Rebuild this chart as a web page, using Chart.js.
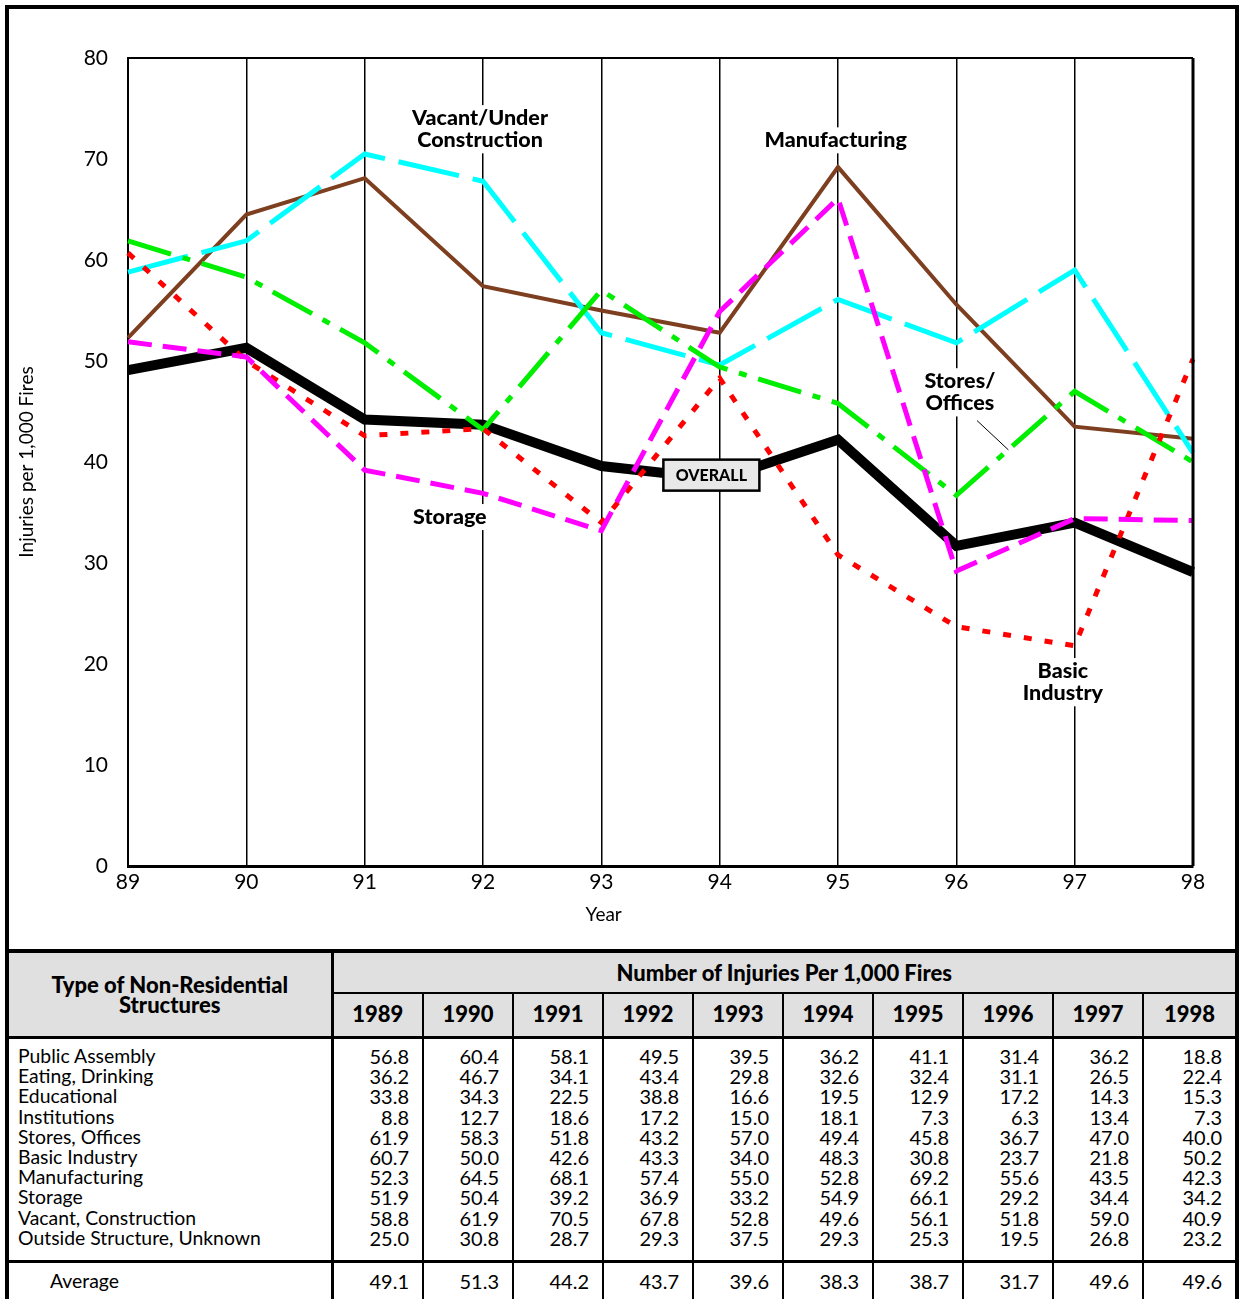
<!DOCTYPE html>
<html>
<head>
<meta charset="utf-8">
<script src="https://cdn.jsdelivr.net/npm/chart.js@4.4.0/dist/chart.umd.min.js"></script>
<style>
  html, body { margin: 0; padding: 0; background: #fff; overflow: hidden; width: 1241px; height: 1299px; }
  .frame { position: absolute; left: 5px; top: 5px; width: 1226px; height: 1400px; border: 4px solid #000; }
  #myChart { position: absolute; left: 0; top: 0; }
  #tbl { position: absolute; left: 9px; top: 949px; width: 1226px; border-collapse: collapse; table-layout: fixed;
         font-family: Lato, sans-serif; font-size: 20px; color: #000; }
  #tbl th { background: #e0e0e0; font-weight: 900; padding: 0; }
  #tbl th.type { border-top: 4px solid #000; border-right: 3px solid #000; border-bottom: 3px solid #000; line-height: 20px; font-size: 22px; }
  #tbl th.title { border-top: 4px solid #000; border-bottom: 2px solid #000; height: 39px; text-align: center; font-size: 22px; }
  #tbl th.year { border-bottom: 3px solid #000; border-left: 2px solid #000; height: 39px; padding-bottom: 3px; font-size: 22px; }
  #tbl td { padding: 0; vertical-align: top; }
  #tbl td.names { border-right: 3px solid #000; padding: 7px 0 0 9px; line-height: 20.2px; height: 214px; white-space: nowrap; font-size: 19.4px; }
  #tbl td.vals { border-left: 2px solid #000; text-align: right; padding: 7px 13px 0 0; line-height: 20.2px; }
  #tbl tr.avg td { border-top: 3px solid #000; padding-top: 8px; line-height: 20px; height: 40px; }
  #tbl tr.avg td.names { padding-left: 41px; }
</style>
</head>
<body>
<div class="frame"></div>
<canvas id="myChart" width="1241" height="949"></canvas>
<table id="tbl">
  <colgroup>
    <col style="width:323px"><col style="width:91px"><col style="width:90px"><col style="width:90px"><col style="width:90px">
    <col style="width:90px"><col style="width:90px"><col style="width:90px"><col style="width:90px"><col style="width:90px"><col style="width:92px">
  </colgroup>
  <thead>
    <tr><th class="type" rowspan="2">Type of Non-Residential<br>Structures</th><th class="title" colspan="10">Number of Injuries Per 1,000 Fires</th></tr>
    <tr id="yearRow"></tr>
  </thead>
  <tbody id="tblBody"></tbody>
</table>

<script>
// data
const years = ['89', '90', '91', '92', '93', '94', '95', '96', '97', '98'];
const tableYears = ['1989', '1990', '1991', '1992', '1993', '1994', '1995', '1996', '1997', '1998'];
const yTicks = [0, 10, 20, 30, 40, 50, 60, 70, 80];

const categories = ['Public Assembly', 'Eating, Drinking', 'Educational', 'Institutions', 'Stores, Offices',
  'Basic Industry', 'Manufacturing', 'Storage', 'Vacant, Construction', 'Outside Structure, Unknown'];

const publicAssembly = [56.8, 60.4, 58.1, 49.5, 39.5, 36.2, 41.1, 31.4, 36.2, 18.8];
const eatingDrinking = [36.2, 46.7, 34.1, 43.4, 29.8, 32.6, 32.4, 31.1, 26.5, 22.4];
const educational = [33.8, 34.3, 22.5, 38.8, 16.6, 19.5, 12.9, 17.2, 14.3, 15.3];
const institutions = [8.8, 12.7, 18.6, 17.2, 15.0, 18.1, 7.3, 6.3, 13.4, 7.3];
const storesOffices = [61.9, 58.3, 51.8, 43.2, 57.0, 49.4, 45.8, 36.7, 47.0, 40.0];
const basicIndustry = [60.7, 50.0, 42.6, 43.3, 34.0, 48.3, 30.8, 23.7, 21.8, 50.2];
const manufacturing = [52.3, 64.5, 68.1, 57.4, 55.0, 52.8, 69.2, 55.6, 43.5, 42.3];
const storage = [51.9, 50.4, 39.2, 36.9, 33.2, 54.9, 66.1, 29.2, 34.4, 34.2];
const vacantConstruction = [58.8, 61.9, 70.5, 67.8, 52.8, 49.6, 56.1, 51.8, 59.0, 40.9];
const outsideUnknown = [25.0, 30.8, 28.7, 29.3, 37.5, 29.3, 25.3, 19.5, 26.8, 23.2];
const averageRow = [49.1, 51.3, 44.2, 43.7, 39.6, 38.3, 38.7, 31.7, 49.6, 49.6];
// overall line as drawn in the plot
const overall = [49.1, 51.3, 44.2, 43.7, 39.6, 38.3, 42.2, 31.7, 34.0, 29.1];

const tableRows = [publicAssembly, eatingDrinking, educational, institutions, storesOffices,
  basicIndustry, manufacturing, storage, vacantConstruction, outsideUnknown];

// text labels inside the plot (x = year index, y = value)
const seriesLabels = [
  { lines: ['Vacant/Under', 'Construction'], x: 2.975, y: [74.05, 71.85] },
  { lines: ['Manufacturing'], x: 5.98, y: [71.85] },
  { lines: ['Stores/', 'Offices'], x: 7.03, y: [48.0, 45.8] },
  { lines: ['Storage'], x: 2.72, y: [34.55] },
  { lines: ['Basic', 'Industry'], x: 7.9, y: [19.3, 17.1] }
];

// table
const yearRow = document.getElementById('yearRow');
tableYears.forEach((yr) => {
  const th = document.createElement('th');
  th.className = 'year';
  th.textContent = yr;
  yearRow.appendChild(th);
});

const tblBody = document.getElementById('tblBody');
let bodyHtml = '<tr><td class="names">' + categories.join('<br>') + '</td>';
tableYears.forEach((yr, i) => {
  bodyHtml += '<td class="vals">' + tableRows.map((r) => r[i].toFixed(1)).join('<br>') + '</td>';
});
bodyHtml += '</tr><tr class="avg"><td class="names">Average</td>';
averageRow.forEach((v) => {
  bodyHtml += '<td class="vals">' + v.toFixed(1) + '</td>';
});
bodyHtml += '</tr>';
tblBody.innerHTML = bodyHtml;

// plugin: labels, frame, axis title and OVERALL box
const chartText = {
  id: 'chartText',
  beforeDatasetsDraw(chart) {
    const { ctx, scales: { x, y } } = chart;
    ctx.save();
    ctx.font = '900 21.5px Lato';
    ctx.textAlign = 'center';
    ctx.textBaseline = 'middle';
    seriesLabels.forEach((l) => {
      const px = x.getPixelForValue(l.x);
      l.lines.forEach((t, i) => {
        const py = y.getPixelForValue(l.y[i]);
        const w = ctx.measureText(t).width;
        ctx.fillStyle = '#fff';
        ctx.fillRect(px - w / 2 - 4, py - 13, w + 8, 26);
        ctx.fillStyle = '#000';
        ctx.fillText(t, px, py);
      });
    });
    // leader line for Stores/Offices
    ctx.strokeStyle = '#000';
    ctx.lineWidth = 1;
    ctx.beginPath();
    ctx.moveTo(x.getPixelForValue(7.175), y.getPixelForValue(44.1));
    ctx.lineTo(x.getPixelForValue(7.44), y.getPixelForValue(41.2));
    ctx.stroke();

    // x axis title sits left of centre in the original
    ctx.font = '19px Lato';
    ctx.fillText('Year', x.getPixelForValue(4.02), 915);
    ctx.restore();
  },
  afterDatasetsDraw(chart) {
    const { ctx, chartArea: a, scales: { x, y } } = chart;
    ctx.save();
    ctx.strokeStyle = '#000';
    ctx.lineWidth = 2;
    ctx.beginPath();
    ctx.moveTo(a.left, a.top);
    ctx.lineTo(a.right, a.top);
    ctx.stroke();
    ctx.lineWidth = 3;
    ctx.beginPath();
    ctx.moveTo(a.right, a.top);
    ctx.lineTo(a.right, a.bottom);
    ctx.stroke();

    // OVERALL box
    const cx = x.getPixelForValue(4.93);
    const cy = y.getPixelForValue(38.7);
    ctx.fillStyle = '#e8e8e8';
    ctx.fillRect(cx - 48, cy - 15.5, 96, 31);
    ctx.lineWidth = 2.5;
    ctx.strokeRect(cx - 48, cy - 15.5, 96, 31);
    ctx.fillStyle = '#000';
    ctx.font = '900 16px Lato';
    ctx.textAlign = 'center';
    ctx.textBaseline = 'middle';
    ctx.fillText('OVERALL', cx, cy + 1);
    ctx.restore();
  }
};

// chart
const ctx = document.getElementById('myChart');

new Chart(ctx, {
  type: 'line',
  data: {
    labels: years,
    datasets: [
      { label: 'Storage', data: storage, borderColor: '#ff00ff', borderWidth: 5, borderDash: [24, 11] },
      { label: 'Basic Industry', data: basicIndustry, borderColor: '#ff0000', borderWidth: 5, borderDash: [8, 13] },
      { label: 'Stores, Offices', data: storesOffices, borderColor: '#00ee00', borderWidth: 5, borderDash: [45, 12, 8, 12] },
      { label: 'Vacant, Construction', data: vacantConstruction, borderColor: '#00ffff', borderWidth: 5, borderDash: [62, 14] },
      { label: 'Manufacturing', data: manufacturing, borderColor: '#7d3f1f', borderWidth: 4 },
      { label: 'Overall', data: overall, borderColor: '#000', borderWidth: 10 }
    ]
  },
  options: {
    responsive: false,
    animation: false,
    layout: { padding: { left: 0, right: 48, top: 58, bottom: 0 } },
    elements: { point: { radius: 0 }, line: { tension: 0, fill: false } },
    plugins: { legend: { display: false }, tooltip: { enabled: false } },
    scales: {
      x: {
        grid: { color: '#000', lineWidth: 1.5, drawTicks: false },
        border: { color: '#000', width: 3 },
        ticks: { color: '#000', padding: 4, font: { family: 'Lato', size: 21 }, maxRotation: 0 },
        afterFit: (s) => { s.height = 83; }
      },
      y: {
        min: 0,
        max: 80,
        afterBuildTicks: (s) => { s.ticks = yTicks.map((v) => ({ value: v })); },
        grid: { display: false },
        border: { color: '#000', width: 2 },
        ticks: { color: '#000', padding: 12, font: { family: 'Lato', size: 21 } },
        title: { display: true, text: 'Injuries per 1,000 Fires', color: '#000', font: { family: 'Lato', size: 19 }, padding: { top: 15 } },
        afterFit: (s) => { s.width = 128; }
      }
    }
  },
  plugins: [chartText]
});
</script>
</body>
</html>
